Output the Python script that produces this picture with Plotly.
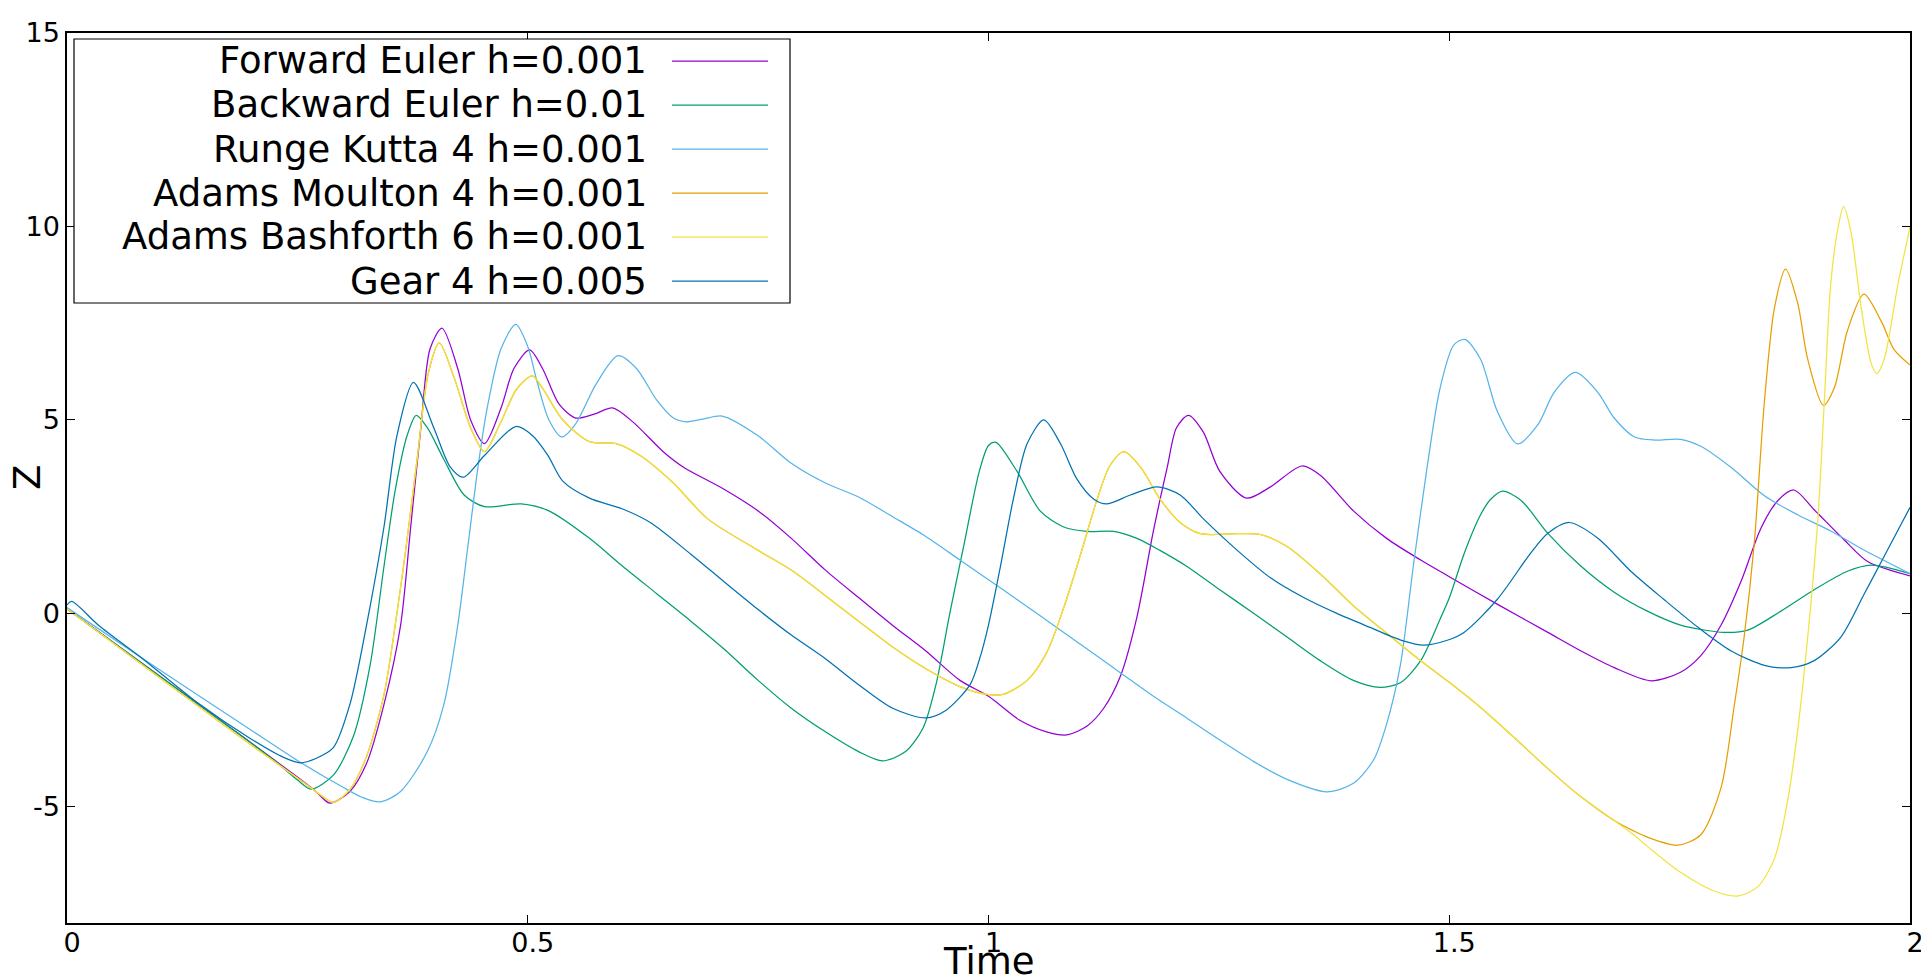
import plotly.graph_objects as go

# ---------------- data ----------------
fe_t = [0, 0.1, 0.2, 0.25, 0.27, 0.285, 0.307, 0.325, 0.344, 0.362, 0.373, 0.384, 0.394, 0.407,
        0.424, 0.438, 0.453, 0.471, 0.485, 0.502, 0.516, 0.534, 0.552, 0.572, 0.592, 0.614, 0.647,
        0.669, 0.713, 0.75, 0.786, 0.823, 0.859, 0.896, 0.932, 0.969, 1.0, 1.034, 1.063, 1.085,
        1.107, 1.125, 1.143, 1.161, 1.179, 1.194, 1.204, 1.217, 1.233, 1.251, 1.28, 1.306, 1.34,
        1.36, 1.396, 1.432, 1.469, 1.5, 1.552, 1.607, 1.643, 1.679, 1.719, 1.751, 1.773, 1.795,
        1.817, 1.838, 1.856, 1.874, 1.896, 1.929, 1.954, 2.0]
fe_z = [0.12, -1.61, -3.35, -4.23, -4.6, -4.9, -4.6, -3.88, -2.35, -0.31, 2.24, 4.8, 6.84, 7.37,
        6.33, 5.0, 4.39, 5.31, 6.33, 6.81, 6.33, 5.41, 5.05, 5.15, 5.31, 4.95, 4.18,
        3.78, 3.21, 2.65, 1.94, 1.12, 0.41, -0.31, -0.97, -1.73, -2.14, -2.76, -3.06, -3.14,
        -2.91, -2.45, -1.63, -0.1, 2.14, 3.78, 4.8, 5.12, 4.69, 3.67, 2.98, 3.27, 3.81,
        3.57, 2.65, 1.94, 1.38, 0.95, 0.24, -0.49, -0.97, -1.4, -1.74, -1.52, -1.09, -0.3,
        0.85, 2.19, 2.9, 3.19, 2.68, 1.89, 1.34, 0.97]

be_t = [0, 0.1, 0.2, 0.23, 0.25, 0.265, 0.289, 0.311, 0.329, 0.344, 0.356, 0.369, 0.379, 0.391,
        0.409, 0.431, 0.453, 0.493, 0.523, 0.567, 0.603, 0.64, 0.677, 0.713, 0.75, 0.786, 0.823,
        0.859, 0.885, 0.91, 0.929, 0.943, 0.958, 0.973, 0.99, 1.0, 1.008, 1.031, 1.056, 1.081,
        1.107, 1.136, 1.161, 1.186, 1.215, 1.251, 1.288, 1.324, 1.36, 1.396, 1.425, 1.447, 1.469,
        1.49, 1.5, 1.517, 1.534, 1.545, 1.558, 1.578, 1.607, 1.643, 1.679, 1.715, 1.751, 1.798,
        1.824, 1.86, 1.896, 1.932, 1.958, 2.0]
be_z = [0.12, -1.61, -3.35, -3.9, -4.3, -4.54, -4.18, -3.16, -1.33, 1.22, 3.16, 4.59, 5.12, 4.8,
        3.98, 3.06, 2.76, 2.83, 2.65, 1.94, 1.22, 0.51, -0.2, -0.92, -1.73, -2.45, -3.06,
        -3.57, -3.81, -3.57, -2.96, -1.84, 0.0, 1.73, 3.67, 4.34, 4.42, 3.67, 2.65, 2.24,
        2.12, 2.12, 1.94, 1.63, 1.22, 0.61, 0.0, -0.61, -1.22, -1.73, -1.91, -1.79, -1.22,
        -0.15, 0.4, 1.6, 2.55, 2.95, 3.16, 2.92, 2.07, 1.22, 0.55, 0.06, -0.3, -0.49,
        -0.43, 0.06, 0.61, 1.09, 1.25, 1.03]

rk_t = [0, 0.1, 0.2, 0.25, 0.3, 0.32, 0.34, 0.362, 0.391, 0.409, 0.424, 0.435, 0.446, 0.456,
        0.471, 0.487, 0.5, 0.51, 0.523, 0.537, 0.552, 0.574, 0.598, 0.618, 0.64, 0.658, 0.671,
        0.69, 0.711, 0.75, 0.786, 0.823, 0.859, 0.896, 0.932, 0.969, 1.0, 1.034, 1.071, 1.107,
        1.143, 1.179, 1.215, 1.251, 1.288, 1.324, 1.367, 1.396, 1.418, 1.432, 1.447, 1.461,
        1.476, 1.49, 1.505, 1.517, 1.534, 1.552, 1.574, 1.596, 1.614, 1.637, 1.661, 1.679,
        1.701, 1.723, 1.751, 1.773, 1.806, 1.842, 1.878, 1.914, 1.95, 2.0]
rk_z = [0.15, -1.45, -3.02, -3.8, -4.5, -4.75, -4.87, -4.6, -3.57, -2.35, -0.31, 1.73, 3.78, 5.31,
        6.84, 7.47, 6.9, 6.0, 5.0, 4.56, 4.9, 5.92, 6.66, 6.33, 5.51, 5.05, 4.95,
        5.02, 5.1, 4.59, 3.88, 3.37, 3.01, 2.5, 1.99, 1.38, 0.87, 0.31, -0.31, -0.92,
        -1.53, -2.14, -2.7, -3.27, -3.83, -4.29, -4.61, -4.39, -3.78, -2.86, -1.33, 1.22,
        3.78, 5.82, 6.94, 7.08, 6.57, 5.23, 4.38, 4.87, 5.72, 6.23, 5.72, 5.05,
        4.56, 4.48, 4.5, 4.32, 3.77, 3.04, 2.55, 2.13, 1.64, 1.03]

am_t = [0, 0.1, 0.2, 0.25, 0.27, 0.289, 0.307, 0.325, 0.344, 0.358, 0.369, 0.38, 0.392, 0.404,
        0.42, 0.438, 0.453, 0.47, 0.488, 0.505, 0.516, 0.538, 0.567, 0.596, 0.622, 0.658, 0.695,
        0.75, 0.786, 0.823, 0.859, 0.896, 0.932, 0.969, 0.998, 1.016, 1.042, 1.063, 1.081, 1.1,
        1.118, 1.132, 1.147, 1.165, 1.186, 1.208, 1.23, 1.27, 1.295, 1.324, 1.36, 1.396, 1.432,
        1.469, 1.5, 1.534, 1.571, 1.607, 1.643, 1.679, 1.7, 1.715, 1.748, 1.773, 1.795, 1.809,
        1.82, 1.831, 1.842, 1.853, 1.865, 1.878, 1.889, 1.906, 1.918, 1.932, 1.95, 1.969, 1.983,
        2.0]
am_z = [0.12, -1.65, -3.4, -4.25, -4.6, -4.88, -4.55, -3.7, -2.1, 0.0, 1.9, 4.0, 6.2, 6.99,
        6.1, 4.8, 4.18, 4.9, 5.8, 6.14, 5.82, 5.0, 4.44, 4.39, 4.08, 3.37, 2.45,
        1.63, 1.12, 0.46, -0.2, -0.87, -1.43, -1.89, -2.09, -2.09, -1.73, -1.02, 0.1, 1.53,
        2.96, 3.83, 4.18, 3.78, 2.96, 2.35, 2.06, 2.06, 2.04, 1.73, 1.02, 0.2, -0.51,
        -1.22, -1.78, -2.43, -3.22, -4.01, -4.74, -5.35, -5.62, -5.78, -5.99, -5.72, -4.5, -2.43,
        -0.61, 1.82, 5.47, 7.91, 8.9, 8.03, 6.57, 5.38, 5.84, 7.3, 8.25, 7.54, 6.81,
        6.42]

ab_t = [0, 0.1, 0.2, 0.25, 0.27, 0.289, 0.307, 0.325, 0.344, 0.358, 0.369, 0.38, 0.392, 0.404,
        0.42, 0.438, 0.453, 0.47, 0.488, 0.505, 0.516, 0.538, 0.567, 0.596, 0.622, 0.658, 0.695,
        0.75, 0.786, 0.823, 0.859, 0.896, 0.932, 0.969, 0.998, 1.016, 1.042, 1.063, 1.081, 1.1,
        1.118, 1.132, 1.147, 1.165, 1.186, 1.208, 1.23, 1.27, 1.295, 1.324, 1.36, 1.396, 1.432,
        1.469, 1.5, 1.534, 1.571, 1.607, 1.643, 1.679, 1.7, 1.715, 1.751, 1.788, 1.814, 1.835,
        1.853, 1.867, 1.878, 1.889, 1.9, 1.907, 1.914, 1.922, 1.928, 1.936, 1.947, 1.958, 1.964,
        1.972, 1.987, 2.0]
ab_z = [0.12, -1.65, -3.4, -4.25, -4.6, -4.88, -4.55, -3.7, -2.1, 0.0, 1.9, 4.0, 6.2, 6.99,
        6.1, 4.8, 4.18, 4.9, 5.8, 6.14, 5.82, 5.0, 4.44, 4.39, 4.08, 3.37, 2.45,
        1.63, 1.12, 0.46, -0.2, -0.87, -1.43, -1.89, -2.09, -2.09, -1.73, -1.02, 0.1, 1.53,
        2.96, 3.83, 4.18, 3.78, 2.96, 2.35, 2.06, 2.06, 2.04, 1.73, 1.02, 0.2, -0.51,
        -1.22, -1.78, -2.43, -3.22, -4.01, -4.74, -5.35, -5.72, -6.02, -6.69, -7.18, -7.3, -7.06,
        -6.33, -4.87, -3.04, -0.61, 2.43, 5.47, 8.52, 9.98, 10.52, 9.85, 7.91, 6.45, 6.2,
        6.57, 8.52, 9.98]

g4_t = [0, 0.005, 0.0345, 0.082, 0.144, 0.198, 0.235, 0.253, 0.27, 0.289, 0.307, 0.325, 0.344,
        0.358, 0.376, 0.398, 0.416, 0.43, 0.453, 0.487, 0.505, 0.522, 0.538, 0.567, 0.603, 0.633,
        0.677, 0.713, 0.75, 0.786, 0.823, 0.859, 0.896, 0.932, 0.954, 0.98, 0.99, 1.0, 1.013,
        1.027, 1.042, 1.06, 1.078, 1.096, 1.114, 1.128, 1.154, 1.183, 1.208, 1.233, 1.27, 1.306,
        1.342, 1.378, 1.414, 1.45, 1.472, 1.497, 1.516, 1.552, 1.589, 1.607, 1.63, 1.661, 1.697,
        1.733, 1.77, 1.806, 1.842, 1.871, 1.896, 1.925, 1.95, 1.969, 2.0]
g4_z = [0.22, 0.31, -0.31, -1.17, -2.35, -3.22, -3.72, -3.86, -3.75, -3.47, -2.35, -0.31, 2.24,
        4.59, 5.97, 4.8, 3.78, 3.52, 4.08, 4.83, 4.6, 4.08, 3.42, 2.98, 2.7, 2.35,
        1.53, 0.82, 0.1, -0.56, -1.17, -1.84, -2.45, -2.7, -2.5, -1.84, -1.2, -0.3, 1.22,
        2.96, 4.39, 5.0, 4.39, 3.47, 2.96, 2.83, 3.06, 3.27, 3.06, 2.45, 1.63, 0.92,
        0.41, 0.0, -0.36, -0.71, -0.82, -0.7, -0.49, 0.36, 1.58, 2.07, 2.35, 1.95, 1.09,
        0.36, -0.36, -0.97, -1.34, -1.4, -1.22, -0.61, 0.49, 1.34, 2.74]

series_names = ["Forward Euler h=0.001", "Backward Euler h=0.01", "Runge Kutta 4 h=0.001",
                "Adams Moulton 4 h=0.001", "Adams Bashforth 6 h=0.001", "Gear 4 h=0.005"]
series_colors = ["#9400d3", "#009e73", "#56b4e9", "#e69f00", "#f0e442", "#0072b2"]
series_data = [(fe_t, fe_z), (be_t, be_z), (rk_t, rk_z), (am_t, am_z), (ab_t, ab_z), (g4_t, g4_z)]

x_ticks = [0, 0.5, 1, 1.5, 2]
x_ticktext = ["0", "0.5", "1", "1.5", "2"]
y_ticks = [-5, 0, 5, 10, 15]
y_ticktext = ["-5", "0", "5", "10", "15"]

# ---------------- figure ----------------
W, H = 1929, 980
L, R, T, B = 59, 27, 25, 65
PW, PH = W - L - R, H - T - B


def pxx(x):
    return (x - L) / PW


def pxy(y):
    return (H - B - y) / PH


FONT = "DejaVu Sans"

fig = go.Figure()
for name, color, (t, z) in zip(series_names, series_colors, series_data):
    fig.add_trace(go.Scatter(x=t, y=z, mode="lines", name=name,
                             line=dict(color=color, width=1.25, shape="spline", smoothing=0.8),
                             showlegend=False))

axis_common = dict(showline=True, linecolor="black", linewidth=1.5, mirror="ticks",
                   ticks="inside", ticklen=8, tickwidth=1.2, tickcolor="black",
                   showgrid=False, zeroline=False,
                   tickfont=dict(family=FONT, size=27, color="black"))

fig.update_layout(
    width=W, height=H,
    margin=dict(l=L, r=R, t=T, b=B, autoexpand=False),
    paper_bgcolor="white", plot_bgcolor="white",
    xaxis=dict(range=[0, 2], tickvals=x_ticks, ticktext=x_ticktext, ticklabelshift=5,
               ticklabelstandoff=-5, **axis_common),
    yaxis=dict(range=[-8, 15], tickvals=y_ticks, ticktext=y_ticktext, **axis_common),
    showlegend=False,
)

annotations = [
    dict(text="Time", x=pxx(981), y=pxy(953), xref="paper", yref="paper",
         xanchor="center", yanchor="middle", showarrow=False,
         font=dict(family=FONT, size=37, color="black")),
    dict(text="Z", x=pxx(19), y=pxy(470), xref="paper", yref="paper",
         xanchor="center", yanchor="middle", showarrow=False, textangle=-90,
         font=dict(family=FONT, size=37, color="black")),
]
shapes = [dict(type="rect", xref="paper", yref="paper",
               x0=pxx(66), x1=pxx(782), y0=pxy(31), y1=pxy(295),
               line=dict(color="black", width=1.2), fillcolor="white", layer="above")]

row_y0, row_dy = 53, 44
for i, (name, color) in enumerate(zip(series_names, series_colors)):
    yy = row_y0 + i * row_dy
    annotations.append(dict(text=name, x=pxx(641), y=pxy(yy), xref="paper", yref="paper",
                            xanchor="right", yanchor="middle", showarrow=False,
                            font=dict(family=FONT, size=37, color="black")))
    shapes.append(dict(type="line", xref="paper", yref="paper",
                       x0=pxx(664), x1=pxx(760), y0=pxy(yy), y1=pxy(yy),
                       line=dict(color=color, width=1.25), layer="above"))

fig.update_layout(annotations=annotations, shapes=shapes)
fig.write_html("out.html")
